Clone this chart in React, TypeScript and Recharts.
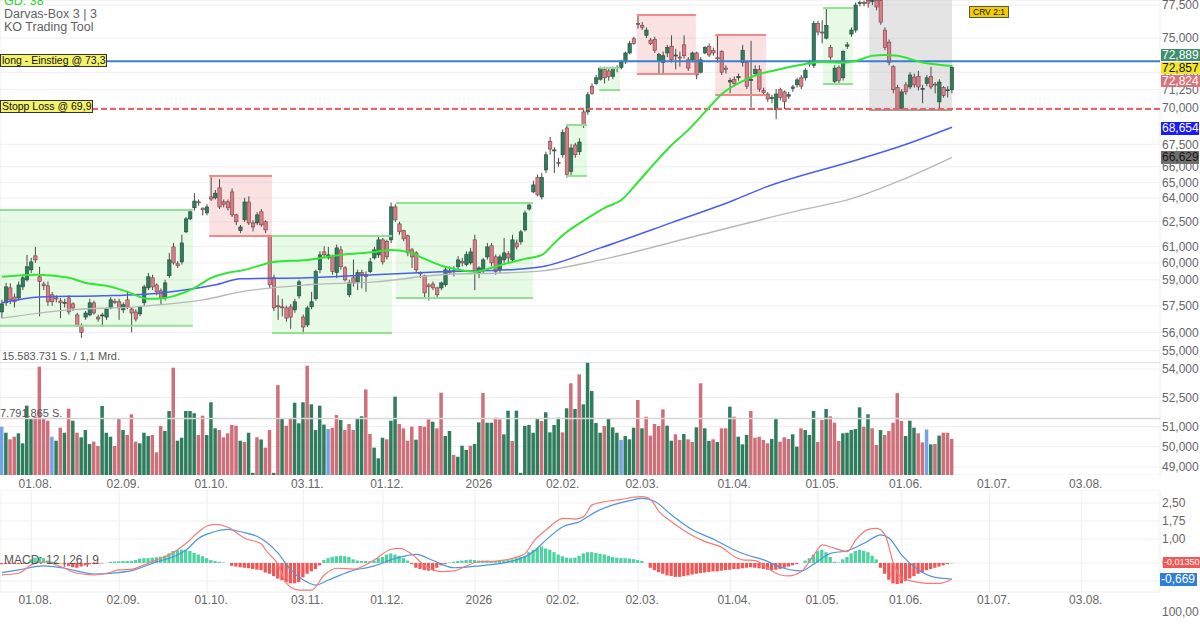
import React from 'react';
import { ComposedChart, Bar, Line, XAxis, YAxis, CartesianGrid, ReferenceLine, ReferenceArea, Cell } from 'recharts';

const X_DOMAIN: [number, number] = [-0.48, 276.7];
const PRICE_DOMAIN: [number, number] = [48.61, 77.89];
const VOL_MAX = 15.583731;
const MACD_DOMAIN: [number, number] = [-1.21, 3.04];

const dateTicks: [number, string][] = [
  [7, '01.08.'], [28, '02.09.'], [49, '01.10.'], [72, '03.11.'], [91, '01.12.'], [113, '2026'],
  [133, '02.02.'], [152, '02.03.'], [174, '01.04.'], [195, '01.05.'], [215, '01.06.'], [236, '01.07.'], [258, '03.08.'],
];
const priceTicks = [77.5, 75, 72.5, 71.25, 70, 67.5, 66, 65, 64, 62.5, 61, 60, 59, 57.5, 56, 55, 54, 52.5, 51, 50, 49];
const macdTicks = [2.5, 1.75, 1.0, 0, -0.75];

// [open, high, low, close]
const candles: [number, number, number, number][] = [
  [57.15, 57.84, 56.8, 57.61], [57.67, 58.82, 57.5, 58.59], [58.53, 58.8, 57.6, 57.84], [58.0, 58.2, 57.4, 57.73], [57.95, 58.9, 57.8, 58.7],
  [58.59, 59.3, 58.4, 59.12], [59.0, 60.48, 58.9, 59.77], [59.59, 60.3, 59.4, 60.06], [60.42, 60.96, 60.0, 60.18], [59.18, 59.77, 56.9, 58.9],
  // 10
  [58.76, 58.9, 58.4, 58.65], [58.65, 58.9, 57.5, 57.73], [58.13, 58.3, 57.5, 57.73], [57.95, 58.1, 57.7, 57.9], [57.78, 57.95, 56.8, 57.67],
  [57.67, 57.9, 57.4, 57.7], [57.95, 58.1, 57.0, 57.15], [57.61, 57.7, 57.2, 57.38], [56.98, 57.1, 56.3, 56.4], [56.4, 56.5, 55.7, 56.0],
  // 20
  [56.86, 57.2, 56.7, 57.09], [56.98, 57.9, 56.9, 57.67], [57.67, 57.8, 57.0, 57.09], [56.86, 57.0, 56.6, 56.75], [56.95, 57.1, 56.3, 56.98],
  [56.86, 57.4, 56.7, 57.32], [57.38, 58.0, 57.3, 57.84], [57.75, 57.9, 57.6, 57.73], [57.73, 57.9, 56.7, 57.38], [57.27, 57.7, 57.1, 57.56],
  // 30
  [57.84, 58.3, 57.3, 57.44], [57.32, 57.4, 56.0, 57.09], [57.15, 57.3, 56.6, 56.75], [57.04, 57.5, 56.9, 57.44], [57.67, 58.7, 57.5, 58.59],
  [58.53, 59.4, 58.4, 59.18], [59.12, 59.3, 58.4, 58.59], [58.7, 58.8, 58.1, 58.3], [58.36, 58.5, 57.56, 57.95], [57.95, 59.0, 57.8, 58.82],
  // 40
  [59.24, 60.6, 59.1, 60.18], [60.96, 61.2, 59.9, 60.0], [59.95, 60.1, 59.7, 59.83], [60.06, 61.7, 59.9, 61.2], [61.88, 62.8, 61.8, 62.68],
  [62.68, 63.2, 62.6, 63.12], [63.37, 64.3, 63.2, 63.8], [63.75, 63.9, 63.5, 63.74], [63.35, 63.4, 62.9, 63.25], [63.05, 63.6, 62.9, 63.43],
  // 50
  [64.06, 65.35, 63.8, 63.93], [64.0, 64.5, 63.9, 64.3], [64.64, 65.2, 63.3, 63.43], [63.75, 63.9, 63.4, 63.6], [63.75, 63.9, 63.2, 63.37],
  [64.38, 64.6, 62.8, 62.93], [62.93, 63.0, 62.3, 62.5], [61.95, 62.3, 61.8, 62.18], [62.62, 64.0, 62.5, 63.74], [63.74, 64.1, 62.3, 62.43],
  // 60
  [62.43, 62.6, 61.9, 62.18], [62.43, 63.1, 62.3, 62.93], [63.12, 63.3, 62.2, 62.31], [62.5, 62.6, 61.8, 62.0], [61.58, 61.7, 58.5, 58.71],
  [59.12, 59.3, 57.2, 57.38], [57.5, 58.1, 56.7, 57.44], [57.44, 57.9, 56.9, 57.4], [57.38, 57.5, 56.6, 56.8], [57.44, 57.6, 56.2, 56.86],
  // 70
  [57.27, 57.9, 57.1, 57.73], [58.07, 59.0, 57.9, 58.88], [56.86, 57.0, 55.9, 56.3], [56.42, 57.5, 56.3, 57.38], [57.44, 58.3, 57.3, 57.73],
  [57.9, 59.6, 57.8, 59.48], [59.59, 60.7, 59.4, 60.48], [60.66, 61.0, 60.3, 60.48], [60.3, 60.96, 60.2, 60.48], [60.36, 60.5, 59.3, 59.48],
  // 80
  [59.42, 61.1, 59.1, 60.9], [60.78, 61.0, 59.6, 59.77], [59.71, 59.8, 58.9, 59.0], [58.13, 59.0, 58.0, 58.82], [59.12, 60.2, 58.6, 58.82],
  [58.88, 59.6, 58.4, 59.42], [59.42, 59.6, 58.5, 59.3], [59.3, 59.5, 58.3, 59.2], [59.48, 60.3, 59.4, 60.06], [60.3, 60.96, 60.2, 60.78],
  // 90
  [60.48, 61.6, 60.3, 61.39], [61.39, 61.5, 59.9, 60.06], [61.3, 61.4, 60.2, 60.36], [61.39, 63.7, 61.2, 63.43], [63.43, 63.6, 62.5, 62.62],
  [62.37, 62.5, 61.7, 61.88], [61.95, 62.0, 61.3, 61.45], [61.64, 61.7, 60.4, 60.6], [60.78, 60.9, 59.7, 60.36], [60.6, 60.7, 59.4, 59.59],
  // 100
  [59.42, 59.5, 59.1, 59.35], [59.24, 59.3, 58.0, 58.24], [58.7, 58.8, 57.8, 58.6], [58.76, 58.9, 58.4, 58.53], [58.53, 58.6, 58.0, 58.13],
  [58.53, 58.9, 58.4, 58.82], [58.71, 59.7, 58.6, 59.59], [59.53, 59.8, 59.3, 59.42], [59.48, 59.8, 59.2, 59.53], [59.77, 60.4, 59.6, 60.18],
  // 110
  [60.1, 60.3, 59.8, 60.0], [59.9, 60.7, 59.8, 60.5], [60.0, 60.9, 59.9, 60.66], [61.39, 61.7, 58.4, 59.48], [59.4, 59.8, 59.1, 59.7],
  [59.59, 60.3, 59.4, 60.18], [60.36, 61.2, 60.2, 60.96], [61.03, 61.2, 59.8, 60.0], [60.36, 60.5, 59.3, 59.48], [59.59, 60.5, 59.4, 60.36],
  // 120
  [60.18, 61.5, 60.0, 60.6], [60.54, 60.7, 60.0, 60.3], [60.18, 61.7, 60.0, 61.39], [61.2, 61.4, 60.8, 60.96], [61.27, 62.0, 61.1, 61.88],
  [62.0, 63.2, 61.9, 63.05], [63.3, 63.7, 63.2, 63.55], [64.38, 65.1, 64.3, 64.83], [65.3, 65.5, 64.1, 64.19], [64.06, 65.6, 63.9, 65.3],
  // 130
  [65.8, 67.0, 65.6, 66.8], [67.7, 68.0, 66.8, 67.18], [67.1, 67.3, 65.6, 67.12], [66.3, 66.6, 66.0, 66.25], [66.8, 68.5, 66.6, 68.3],
  [68.6, 68.8, 65.3, 65.5], [65.7, 67.5, 65.4, 67.25], [67.45, 67.6, 66.6, 66.8], [67.0, 67.9, 66.8, 67.65], [69.7, 69.9, 68.6, 68.85],
  // 140
  [69.7, 71.1, 69.5, 70.9], [71.5, 71.7, 70.9, 71.0], [71.7, 72.3, 71.6, 72.1], [72.0, 72.9, 71.9, 72.8], [72.7, 72.9, 71.7, 72.1],
  [72.6, 72.8, 71.9, 72.2], [72.2, 72.9, 72.0, 72.8], [72.8, 73.0, 72.5, 72.85], [72.85, 73.4, 72.7, 73.2], [73.25, 74.0, 73.1, 73.9],
  // 150
  [73.9, 74.8, 73.8, 74.6], [74.95, 75.1, 74.5, 74.6], [76.1, 76.7, 75.7, 76.05], [75.95, 76.2, 75.6, 75.8], [75.2, 75.8, 75.0, 75.6],
  [74.85, 75.0, 74.5, 74.6], [74.9, 75.1, 73.9, 74.1], [73.3, 73.9, 72.4, 73.8], [73.2, 74.0, 72.3, 73.7], [73.9, 74.5, 73.6, 74.3],
  // 160
  [74.4, 75.2, 73.2, 73.4], [73.7, 74.2, 72.7, 73.75], [73.6, 74.0, 72.9, 73.55], [74.5, 75.2, 73.5, 73.7], [73.4, 73.6, 72.6, 72.8],
  [73.4, 74.0, 73.2, 73.9], [73.9, 74.0, 72.0, 72.3], [72.5, 73.6, 72.4, 73.4], [73.9, 74.4, 73.8, 74.3], [74.4, 74.6, 73.6, 73.75],
  // 170
  [74.1, 74.3, 73.7, 73.9], [73.55, 75.2, 73.2, 73.5], [74.0, 74.1, 72.3, 72.5], [72.8, 73.0, 72.4, 72.7], [71.8, 72.1, 71.0, 71.9],
  [72.0, 72.2, 71.5, 71.7], [72.1, 72.4, 71.9, 72.2], [73.2, 74.5, 72.9, 74.1], [73.2, 73.3, 71.3, 71.5], [71.9, 74.8, 70.0, 72.0],
  // 180
  [72.4, 73.0, 72.2, 72.7], [72.7, 73.0, 71.1, 71.3], [71.2, 71.4, 70.9, 71.05], [70.95, 71.1, 70.4, 70.6], [70.65, 70.9, 70.3, 70.7],
  [69.85, 71.3, 69.2, 70.95], [71.25, 71.4, 70.5, 70.7], [71.1, 71.2, 69.9, 70.4], [70.8, 71.1, 70.6, 70.9], [71.35, 71.6, 71.1, 71.45],
  // 190
  [71.6, 72.1, 71.4, 71.95], [72.1, 72.3, 71.3, 71.5], [72.1, 72.8, 71.9, 72.65], [73.1, 73.4, 72.9, 73.2], [73.0, 76.3, 72.8, 76.1],
  [76.1, 76.3, 75.2, 75.45], [75.45, 76.35, 74.6, 75.4], [75.0, 77.2, 74.9, 75.95], [74.3, 74.5, 73.4, 73.6], [71.85, 73.0, 71.7, 72.8],
  // 200
  [72.85, 73.0, 71.7, 71.9], [72.1, 74.1, 71.9, 74.0], [74.4, 74.7, 74.2, 74.5], [75.3, 75.8, 75.1, 75.6], [75.6, 77.7, 75.4, 77.5],
  [77.65, 77.85, 77.4, 77.7], [77.7, 77.85, 77.4, 77.65], [77.85, 77.88, 77.3, 77.65], [77.8, 77.88, 77.5, 77.85], [77.85, 77.88, 77.1, 77.35],
  // 210
  [77.85, 77.88, 76.0, 76.2], [75.6, 75.8, 74.1, 74.3], [74.7, 74.9, 73.0, 73.2], [72.9, 73.0, 71.0, 71.25], [71.4, 71.6, 69.8, 69.9],
  [69.95, 71.3, 69.84, 71.1], [71.6, 71.8, 70.9, 71.1], [71.45, 72.5, 71.3, 72.3], [72.15, 72.4, 71.4, 71.6], [72.2, 72.6, 71.2, 71.45],
  // 220
  [71.3, 71.6, 70.3, 71.35], [71.7, 72.3, 71.5, 72.1], [72.2, 72.9, 71.3, 71.45], [71.65, 71.8, 71.0, 71.6], [70.4, 72.0, 69.9, 71.8],
  [71.4, 71.5, 70.7, 70.85], [71.2, 71.5, 70.7, 71.25], [71.25, 73.0, 71.0, 72.857],
];

// volume in million shares
const volumes = [
  6.66, 5.83, 4.92, 5.28, 5.75, 4.37, 9.56, 7.82, 8.04, 14.94,
  7.82, 7.49, 5.28, 4.73, 6.52, 5.83, 9.14, 7.49, 5.83, 5.2,
  6.2, 4.27, 4.6, 4.0, 9.52, 5.83, 5.28, 4.0, 7.82, 6.2,
  5.52, 8.37, 4.6, 4.37, 5.83, 5.38, 5.52, 3.13, 6.76, 6.07,
  8.83, 14.8, 4.73, 5.14, 8.83, 8.83, 8.51, 5.52, 8.18, 5.52,
  10.03, 6.44, 6.2, 5.2, 5.75, 6.9, 6.8, 4.73, 4.55, 5.83,
  0.3, 5.2, 4.9, 3.77, 6.2, 0.3, 12.4, 7.72, 6.8, 7.82,
  9.97, 7.13, 10.03, 15.07, 9.75, 6.2, 9.56, 6.95, 6.34, 6.52,
  8.27, 7.58, 6.2, 7.03, 6.2, 7.82, 8.1, 11.8, 5.65, 3.77,
  2.3, 5.14, 4.92, 7.49, 10.8, 7.03, 6.44, 4.73, 6.66, 4.87,
  6.76, 6.66, 7.68, 7.35, 6.44, 11.35, 5.38, 6.07, 2.76, 2.52,
  4.04, 3.45, 4.04, 4.27, 7.26, 11.3,
  7.21, 7.21, 7.9, 7.68, 5.61, 8.87, 4.69, 8.87, 0.3, 6.76,
  6.9, 5.83, 7.82, 7.45, 8.65, 5.88, 6.9, 7.9, 5.88, 9.2,
  12.65, 9.1, 13.88, 9.75, 15.54, 11.58, 7.17, 5.83, 6.76, 7.82,
  6.57, 5.83, 4.83, 5.38, 4.92, 6.52, 10.34, 6.44, 8.04, 5.43,
  7.03, 6.76, 9.06, 6.8, 4.73, 5.61, 4.83, 5.65, 4.92, 4.55,
  6.57, 12.65, 6.44, 4.69, 4.92, 4.55, 6.44, 6.44, 9.42, 8.04,
  5.28, 4.23, 5.52, 8.83, 5.14, 5.28, 4.83, 4.37, 4.97, 7.82,
  4.6, 5.2, 4.97, 5.61, 3.91, 6.44, 6.2, 5.52, 8.83, 4.55,
  7.58, 9.1, 8.1, 7.21, 4.69, 5.75, 5.83, 6.2, 6.34, 9.33,
  6.66, 8.37, 6.44, 4.14, 6.2, 5.52, 6.07, 7.21, 11.3, 7.45,
  5.38, 7.49, 6.52, 5.75, 4.5, 6.28, 4.23, 4.27, 5.43, 5.83,
  5.83, 4.97,
];
const volColors =
  'bgrrggggrr' + 'rrbgrgrgrg' + 'ggrrgggrrg' + 'rrrgggrrrg' + 'grgggggrrg' + 'ggrrrrrgrg' +
  'grgrrgrgrr' + 'gggrggggbr' + 'rgrrrggrrg' + 'ggrggrrrrg' + 'rrrgrrggrg' + 'ggrggr' +
  'ggrrggrggg' + 'gggrggggrg' + 'rgrgggggrg' + 'ggbgggrgrr' + 'rrrggrrgrr' + 'grggrgrrgr' +
  'gggrrrrrgg' + 'rrrggrgggr' + 'rgrrrggggg' + 'rgrrgrrrrr' + 'gggrrbgrgr' + 'rr';

const macdHist = [
  -0.05, -0.05, -0.04, -0.04, -0.05, -0.04, -0.03,
  0.15, 0.22, 0.26, 0.2,
  0.1, 0.06, 0.03, -0.02, -0.05,
  -0.12, -0.18, -0.2, -0.15, -0.1,
  -0.06, -0.05, -0.04, -0.02,
  0,
  0.05, 0.06, 0.07, 0.08, 0.08, 0.09, 0.12,
  0.18, 0.2, 0.2, 0.22, 0.24,
  0.26, 0.3, 0.4, 0.5,
  0.54, 0.56, 0.55, 0.5, 0.42,
  0.35, 0.28, 0.2, 0.12,
  0.08, 0.05, 0.02,
  0,
  -0.12, -0.15, -0.18, -0.2, -0.22, -0.25, -0.28, -0.3,
  -0.4, -0.45, -0.55,
  -0.65, -0.72, -0.8, -0.85, -0.85, -0.8,
  -0.6, -0.45, -0.35, -0.25, -0.1,
  0.12, 0.2, 0.25, 0.28,
  0.3, 0.28, 0.25,
  0.15, 0.1, 0.08, 0.08, 0.07, 0.1,
  0.2, 0.25, 0.35, 0.4, 0.35, 0.3,
  0.2, 0.1, -0.05,
  -0.2, -0.25, -0.3, -0.32, -0.3, -0.2,
  -0.1, -0.05, 0.02,
  0.05, 0.08, 0.1, 0.12, 0.14, 0.12, 0.1,
  0.1, 0.1, 0.08, 0.08, 0.1, 0.1, 0.12,
  0.15, 0.2, 0.25, 0.3,
  0.45, 0.55, 0.62, 0.68, 0.6, 0.55,
  0.45, 0.35, 0.28,
  0.22, 0.2, 0.22, 0.3,
  0.4, 0.45, 0.45, 0.42,
  0.38, 0.35, 0.3,
  0.25, 0.22, 0.2, 0.2, 0.18, 0.16,
  0.12, 0.08,
  0,
  -0.2, -0.3, -0.38, -0.45,
  -0.52, -0.55, -0.58, -0.58, -0.55, -0.52,
  -0.48, -0.45, -0.42, -0.4, -0.38, -0.35,
  -0.35, -0.32, -0.3, -0.28, -0.25, -0.25, -0.22, -0.2,
  -0.18, -0.2, -0.22, -0.25, -0.28, -0.3,
  -0.28, -0.25, -0.2, -0.15, -0.1, -0.05,
  0,
  0.1, 0.2, 0.35,
  0.5, 0.55, 0.45, 0.25,
  0.05, 0.02,
  0.15, 0.25,
  0.4, 0.5, 0.55, 0.5, 0.45,
  0.3, 0.15,
  -0.2,
  -0.45, -0.7, -0.85, -0.88,
  -0.85, -0.75, -0.65,
  -0.55, -0.45, -0.38, -0.3,
  -0.25, -0.2, -0.15, -0.1, -0.05, -0.0135,
];

// moving averages / MACD lines read at selected candles [index, value]
const ma38Pts: [number, number][] = [
  [0, 59.18], [8, 59.3], [16, 59.12], [20, 58.82], [25, 58.65], [30, 58.3], [35, 57.9], [39, 57.95], [42, 58.13], [46, 58.53],
  [50, 59.12], [54, 59.42], [57, 59.53], [65, 60.06], [73, 60.18], [81, 60.48], [89, 60.66], [93, 60.78], [97, 60.66], [101, 60.24],
  [105, 59.83], [109, 59.59], [113, 59.48], [117, 59.71], [121, 60.0], [125, 60.24], [129, 60.48], [132, 61.2], [135, 61.88], [140, 62.74],
  [144, 63.37], [148, 63.87], [152, 65.02], [156, 66.26], [160, 67.45], [164, 68.47], [168, 69.7], [172, 70.95], [177, 71.87], [181, 72.37],
  [184, 72.59], [192, 73.1], [196, 73.25], [200, 73.18], [204, 73.32], [208, 73.69], [211, 73.76], [214, 73.69], [220, 73.2], [227, 72.95],
];
const ma100Pts: [number, number][] = [
  [0, 57.67], [9, 58.01], [24, 58.07], [38, 58.24], [44, 58.42], [51, 58.71], [57, 59.06], [73, 59.12], [89, 59.3], [105, 59.48],
  [121, 59.59], [129, 59.77], [143, 60.9], [160, 62.45], [175, 63.87], [182, 64.64], [205, 66.52], [215, 67.4], [227, 68.654],
];
const ma200Pts: [number, number][] = [
  [0, 56.8], [16, 57.27], [32, 57.44], [40, 57.61], [48, 57.84], [57, 58.3], [73, 58.71], [89, 58.88], [105, 59.3], [121, 59.42],
  [129, 59.53], [143, 60.18], [167, 61.7], [191, 63.24], [203, 63.95], [215, 65.15], [227, 66.629],
];
const macdPts: [number, number][] = [
  [0, -0.5], [4, -0.43], [7, -0.08], [10, 0.05], [14, -0.15], [18, -0.43], [22, -0.5], [25, -0.43], [28, -0.29], [31, -0.26],
  [34, -0.08], [37, 0.13], [41, 0.44], [44, 0.82], [47, 1.3], [49, 1.54], [51, 1.61], [54, 1.49], [58, 1.03], [62, 0.79],
  [63, 0.54], [66, -0.08], [68, -0.85], [71, -1.13], [74, -1.13], [77, -0.5], [80, -0.22], [84, -0.26], [89, 0.13], [93, 0.57],
  [95, 0.61], [98, 0.36], [101, -0.12], [105, -0.36], [108, -0.33], [111, -0.12], [114, 0.05], [118, 0.08], [122, 0.19], [125, 0.4],
  [127, 0.89], [130, 1.38], [133, 1.79], [134, 1.86], [137, 1.83], [139, 1.93], [141, 2.42], [144, 2.55], [148, 2.65], [151, 2.74],
  [153, 2.76], [155, 2.63], [157, 2.14], [160, 1.72], [164, 1.24], [168, 0.89], [172, 0.65], [175, 0.26], [177, 0.13], [180, 0.1],
  [183, -0.22], [186, -0.5], [188, -0.54], [191, -0.36], [194, 0.33], [196, 0.75], [199, 0.61], [202, 0.47], [204, 0.96], [207, 1.4],
  [209, 1.44], [211, 1.17], [213, -0.01], [215, -0.64], [218, -0.78], [221, -0.85], [224, -0.85], [227, -0.68],
];
const signalPts: [number, number][] = [
  [0, -0.4], [4, -0.29], [10, -0.12], [15, -0.22], [22, -0.46], [26, -0.43], [31, -0.32], [37, 0.05], [41, 0.26], [44, 0.54],
  [47, 1.03], [50, 1.26], [54, 1.4], [57, 1.3], [61, 1.1], [63, 0.89], [66, 0.4], [69, -0.29], [72, -0.71], [75, -0.92],
  [78, -0.71], [83, -0.36], [89, -0.12], [94, 0.19], [99, 0.36], [103, 0.1], [108, -0.2], [114, -0.12], [122, 0.08], [127, 0.47],
  [130, 0.96], [134, 1.51], [138, 1.72], [142, 2.14], [146, 2.42], [150, 2.6], [153, 2.69], [156, 2.56], [160, 2.0], [165, 1.38],
  [170, 0.99], [175, 0.54], [178, 0.33], [182, 0.13], [186, -0.18], [191, -0.33], [194, -0.04], [198, 0.4], [202, 0.51], [206, 0.82],
  [210, 1.17], [212, 1.03], [215, 0.33], [219, -0.29], [223, -0.6], [227, -0.669],
];

// Darvas boxes: [fromIndex, toIndex, top, bottom, kind]
const boxes: [number, number, number, number, 'g' | 'r' | 'n'][] = [
  [-0.48, 45.6, 63.24, 56.37, 'g'],
  [49.5, 64.5, 65.41, 61.63, 'r'],
  [64.5, 93.2, 61.63, 55.97, 'g'],
  [94.1, 126.9, 63.68, 57.95, 'g'],
  [134.8, 139.8, 68.8, 65.41, 'g'],
  [142.7, 147.7, 72.8, 71.23, 'g'],
  [151.7, 165.8, 76.73, 72.37, 'r'],
  [170.4, 182.6, 75.23, 70.88, 'r'],
  [196.2, 203.3, 77.27, 71.66, 'g'],
  [207.2, 227.0, 77.89, 69.84, 'n'],
];
const ENTRY = 73.3;
const STOP = 69.9;

const toRows = (pts: [number, number][]) => pts.map(([i, v]) => ({ i, v }));

const priceData = candles.map(([o, h, l, c], i) => ({ i, o, h, l, c }));
const volData = candles.map((_, i) => ({ i, v: volumes[i] ?? 0, vc: volColors[i] ?? 'g' }));
const macdData = candles.map((_, i) => ({ i, hist: macdHist[i] ?? 0 }));

const dateTickIdx = dateTicks.map((d) => d[0]);
const dateLabel = new Map(dateTicks);
const fmt = (v: number, d: number) => v.toFixed(d).replace('.', ',');

const boxStyle = {
  g: { fill: '#8ee68e', op: 0.22, line: '#93e093' },
  r: { fill: '#f08a8a', op: 0.25, line: '#f08a8a' },
  n: { fill: '#b8b8b8', op: 0.38, line: '#a0a0a0' },
};

const Candle = (props: any) => {
  const { x, y, width, height, payload } = props;
  if (!payload || x == null || y == null || height == null) return null;
  const top = Math.min(y, y + height);
  const hgt = Math.abs(height);
  const { o, h, l, c } = payload;
  const lh = Math.log(h);
  const span = lh - Math.log(l) || 1;
  const py = (v: number) => top + (hgt * (lh - Math.log(v))) / span;
  const cx = x + width / 2;
  const up = c >= o;
  const bTop = py(Math.max(o, c));
  const bBot = py(Math.min(o, c));
  const bw = 3.4;
  return (
    <g>
      <line x1={cx} x2={cx} y1={top} y2={top + hgt} stroke="#4a4a4a" strokeWidth={1} />
      <rect
        x={cx - bw / 2}
        y={bTop}
        width={bw}
        height={Math.max(bBot - bTop, 1)}
        fill={up ? '#2f7d5c' : '#de7d86'}
        stroke={up ? '#234a3a' : '#6d4346'}
        strokeWidth={0.6}
      />
    </g>
  );
};

const makeDateTick = (dy: number) => (props: any) => {
  const { x, y, payload } = props;
  return (
    <text x={x + 4} y={y + dy} dy="0.35em" textAnchor="middle" fontSize={12} fill="#666">
      {dateLabel.get(payload.value) ?? ''}
    </text>
  );
};

const rightBadges: { top: number; left: number; w: number; h: number; bg: string; fg: string; t: string; fs: number }[] = [
  { top: 49, left: 1161, w: 39, h: 12, bg: '#3f8f6d', fg: '#fff', t: '72,889', fs: 12 },
  { top: 62, left: 1161, w: 39, h: 12, bg: '#f2e530', fg: '#111', t: '72,857', fs: 12 },
  { top: 75, left: 1161, w: 39, h: 12, bg: '#d9747d', fg: '#fff', t: '72,824', fs: 12 },
  { top: 122, left: 1161, w: 38, h: 13, bg: '#1a1aff', fg: '#fff', t: '68,654', fs: 12 },
  { top: 151, left: 1161, w: 38, h: 13, bg: '#6f6f6f', fg: '#151515', t: '66,629', fs: 12 },
  { top: 557, left: 1163, w: 37, h: 11, bg: '#f25757', fg: '#fff', t: '-0,01350', fs: 9 },
  { top: 573, left: 1160, w: 37, h: 13, bg: '#2f7fd6', fg: '#fff', t: '-0,669', fs: 12 },
];

const textStyle: React.CSSProperties = { position: 'absolute', whiteSpace: 'nowrap', lineHeight: 1 };

export default function App() {
  return (
    <div
      style={{
        position: 'fixed', left: 0, top: 0, width: 1200, height: 628, overflow: 'hidden',
        background: '#fff', fontFamily: '"Liberation Sans", Arial, sans-serif',
      }}
    >
      {/* price panel */}
      <div style={{ position: 'absolute', left: 0, top: 0 }}>
        <ComposedChart width={1200} height={475} data={priceData} margin={{ top: 0, right: 0, bottom: 0, left: 0 }}>
          <CartesianGrid stroke="#eeeeee" strokeWidth={1} />
          <XAxis
            dataKey="i" type="number" domain={X_DOMAIN} allowDataOverflow ticks={dateTickIdx} interval={0}
            height={0} tick={false} axisLine={false} tickLine={false}
          />
          <YAxis
            orientation="right" width={40} scale="log" domain={PRICE_DOMAIN} allowDataOverflow ticks={priceTicks}
            interval={0} tickFormatter={(v: number) => fmt(v, 3)} axisLine={false} tickLine={false} tickSize={0}
            tickMargin={2} tick={{ fontSize: 12, fill: '#666' }}
          />
          {boxes.map(([x1, x2, top, bottom, k], n) => (
            <ReferenceArea
              key={'ba' + n} x1={x1} x2={x2} y1={bottom} y2={top} fill={boxStyle[k].fill}
              fillOpacity={boxStyle[k].op} stroke="none" ifOverflow="hidden"
            />
          ))}
          {boxes.flatMap(([x1, x2, top, bottom, k], n) => {
            const items = [
              <ReferenceLine
                key={'bb' + n} segment={[{ x: x1, y: bottom }, { x: x2, y: bottom }]}
                stroke={boxStyle[k].line} strokeWidth={2} ifOverflow="visible"
              />,
            ];
            if (k !== 'n') {
              items.push(
                <ReferenceLine
                  key={'bt' + n} segment={[{ x: x1, y: top }, { x: x2, y: top }]}
                  stroke={boxStyle[k].line} strokeWidth={2} ifOverflow="visible"
                />,
              );
            }
            return items;
          })}
          <ReferenceLine y={ENTRY} stroke="#3d7fcf" strokeWidth={2} ifOverflow="visible" />
          <ReferenceLine y={STOP} stroke="#f06060" strokeWidth={2} strokeDasharray="6 3" ifOverflow="visible" />
          <Line data={toRows(ma200Pts)} dataKey="v" stroke="#b8b8b8" strokeWidth={1.4} dot={false} activeDot={false} type="monotone" isAnimationActive={false} />
          <Line data={toRows(ma100Pts)} dataKey="v" stroke="#4d5cf0" strokeWidth={1.5} dot={false} activeDot={false} type="monotone" isAnimationActive={false} />
          <Bar dataKey={(d: any) => [d.l, d.h]} barSize={4} shape={<Candle />} isAnimationActive={false} />
          <Line data={toRows(ma38Pts)} dataKey="v" stroke="#33e533" strokeWidth={2} dot={false} activeDot={false} type="monotone" isAnimationActive={false} />
        </ComposedChart>
      </div>

      {/* volume panel */}
      <div style={{ position: 'absolute', left: 0, top: 362 }}>
        <ComposedChart width={1200} height={133} data={volData} margin={{ top: 0, right: 40, bottom: 0, left: 0 }}>
          <XAxis
            dataKey="i" type="number" domain={X_DOMAIN} allowDataOverflow ticks={dateTickIdx} interval={0}
            height={20} tickSize={0} tickMargin={0} axisLine={false} tickLine={false} tick={makeDateTick(9)}
          />
          <YAxis hide domain={[0, VOL_MAX]} allowDataOverflow />
          <ReferenceLine y={VOL_MAX} stroke="#d6d6d6" strokeWidth={1.5} ifOverflow="visible" />
          <ReferenceLine y={VOL_MAX / 2} stroke="#d6d6d6" strokeWidth={1.5} ifOverflow="visible" />
          <Bar dataKey="v" barSize={3.5} isAnimationActive={false}>
            {volData.map((d) => (
              <Cell
                key={d.i}
                fill={d.vc === 'g' ? '#2f7d5c' : d.vc === 'r' ? '#cf6f79' : '#74a4e6'}
              />
            ))}
          </Bar>
        </ComposedChart>
      </div>

      {/* MACD panel */}
      <div style={{ position: 'absolute', left: 0, top: 490 }}>
        <ComposedChart width={1200} height={122} data={macdData} margin={{ top: 0, right: 0, bottom: 0, left: 0 }}>
          <CartesianGrid stroke="#eeeeee" strokeWidth={1} />
          <XAxis
            dataKey="i" type="number" domain={X_DOMAIN} allowDataOverflow ticks={dateTickIdx} interval={0}
            height={20} tickSize={0} tickMargin={0} axisLine={false} tickLine={false} tick={makeDateTick(8)}
          />
          <YAxis
            orientation="right" width={40} domain={MACD_DOMAIN} allowDataOverflow ticks={macdTicks} interval={0}
            tickFormatter={(v: number) => fmt(v, 2)} axisLine={false} tickLine={false} tickSize={0} tickMargin={2}
            tick={{ fontSize: 12, fill: '#666' }}
          />
          <Bar dataKey="hist" barSize={3.3} isAnimationActive={false}>
            {macdData.map((d) => (
              <Cell key={d.i} fill={d.hist >= 0 ? '#4fd1a1' : '#f25757'} />
            ))}
          </Bar>
          <Line data={toRows(signalPts)} dataKey="v" stroke="#4d95dc" strokeWidth={1.2} dot={false} activeDot={false} type="monotone" isAnimationActive={false} />
          <Line data={toRows(macdPts)} dataKey="v" stroke="#f47a7a" strokeWidth={1.2} dot={false} activeDot={false} type="monotone" isAnimationActive={false} />
        </ComposedChart>
      </div>

      {/* overlay texts */}
      <div style={{ ...textStyle, left: 4, top: -5, fontSize: 12.5, color: '#2fd12f' }}>GD: 38</div>
      <div style={{ ...textStyle, left: 4, top: 8, fontSize: 12.5, color: '#5f5f5f' }}>Darvas-Box 3 | 3</div>
      <div style={{ ...textStyle, left: 4, top: 21, fontSize: 12.5, color: '#5f5f5f' }}>KO Trading Tool</div>
      <div
        style={{
          ...textStyle, left: 0, top: 54, height: 11, padding: '0 1px', fontSize: 10.5, lineHeight: '11px',
          background: '#f3f36c', border: '1px solid #333', color: '#111',
        }}
      >
        long - Einstieg @ 73,3
      </div>
      <div
        style={{
          ...textStyle, left: 0, top: 100, height: 11, padding: '0 1px', fontSize: 10.5, lineHeight: '11px',
          background: '#f3f36c', border: '1px solid #333', color: '#111',
        }}
      >
        Stopp Loss @ 69,9
      </div>
      <div
        style={{
          ...textStyle, left: 969, top: 6, height: 10, padding: '0 3px', fontSize: 8.5, lineHeight: '10px',
          background: '#f2cd00', border: '1px solid #555', color: '#111',
        }}
      >
        CRV 2:1
      </div>
      <div style={{ ...textStyle, left: 2, top: 351, fontSize: 11, color: '#555' }}>15.583.731 S. / 1,1 Mrd.</div>
      <div style={{ ...textStyle, left: 0, top: 408, fontSize: 11, color: '#555' }}>7.791.865 S.</div>
      <div style={{ ...textStyle, left: 4, top: 554, fontSize: 12, color: '#555' }}>MACD: 12 | 26 | 9</div>
      <div style={{ ...textStyle, left: 1162, top: 606, fontSize: 12, color: '#666' }}>100,00</div>
      {rightBadges.map((b, n) => (
        <div
          key={n}
          style={{
            ...textStyle, left: b.left, top: b.top, width: b.w, height: b.h, background: b.bg, color: b.fg,
            fontSize: b.fs, lineHeight: b.h + 'px', paddingLeft: 1, boxSizing: 'border-box',
          }}
        >
          {b.t}
        </div>
      ))}
    </div>
  );
}
